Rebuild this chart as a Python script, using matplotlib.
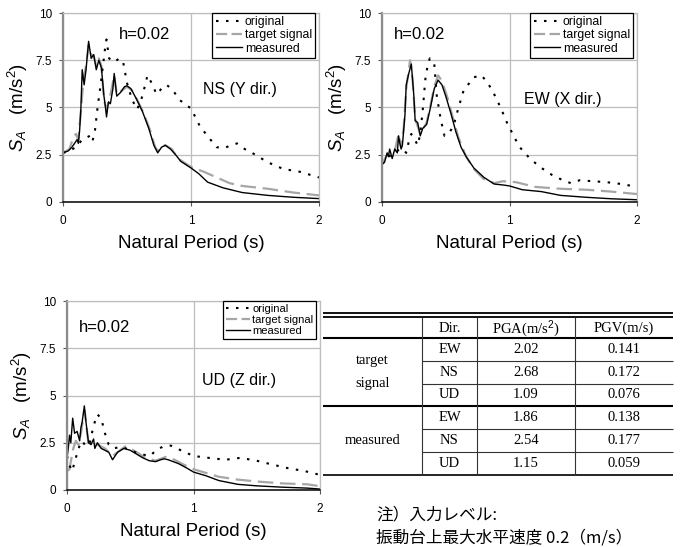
import matplotlib
matplotlib.use("Agg")
import matplotlib.pyplot as plt
from matplotlib.lines import Line2D

plt.rcParams['font.family'] = ['Liberation Sans', 'Noto Sans CJK JP']
plt.rcParams['mathtext.fontset'] = 'custom'
plt.rcParams['mathtext.rm'] = 'Liberation Sans'
plt.rcParams['mathtext.it'] = 'Liberation Sans:italic'

# ---- response spectra (period s, SA m/s^2) ----
ns_meas_t = [0.00, 0.04, 0.07, 0.09, 0.11, 0.12, 0.13, 0.14, 0.15, 0.165, 0.18, 0.20, 0.22, 0.24,
             0.26, 0.28, 0.30, 0.32, 0.33, 0.34, 0.355, 0.37, 0.39, 0.40, 0.42, 0.45, 0.48, 0.50,
             0.53, 0.57, 0.62, 0.67, 0.71, 0.74, 0.77, 0.80, 0.84, 0.88, 0.92, 1.00, 1.06, 1.13,
             1.25, 1.40, 1.60, 1.80, 2.00]
ns_meas_sa = [2.6, 2.7, 2.9, 3.1, 3.3, 3.1, 3.8, 5.0, 7.0, 6.2, 7.0, 8.5, 7.6, 7.8,
              7.0, 7.5, 7.1, 5.6, 5.1, 4.5, 5.3, 5.2, 6.0, 6.8, 5.6, 5.8, 6.1, 6.15,
              6.0, 5.5, 4.8, 3.9, 3.0, 2.6, 2.9, 3.0, 2.8, 2.5, 2.15, 1.8, 1.5, 1.05,
              0.75, 0.5, 0.35, 0.25, 0.18]
ns_targ_t = [0.00, 0.05, 0.08, 0.10, 0.12, 0.14, 0.16, 0.18, 0.20, 0.22, 0.24, 0.26, 0.28, 0.30,
             0.32, 0.34, 0.36, 0.40, 0.42, 0.46, 0.50, 0.54, 0.58, 0.63, 0.68, 0.72, 0.74, 0.78,
             0.80, 0.85, 0.90, 1.00, 1.10, 1.20, 1.30, 1.40, 1.60, 1.80, 2.00]
ns_targ_sa = [2.6, 2.8, 3.4, 3.6, 3.3, 4.8, 6.5, 7.2, 8.3, 7.8, 7.7, 7.2, 7.6, 7.2,
              5.4, 4.9, 5.3, 6.7, 5.7, 5.9, 6.1, 5.9, 5.4, 4.7, 3.8, 2.9, 2.7, 3.0,
              3.0, 2.8, 2.3, 1.85, 1.6, 1.3, 1.0, 0.85, 0.7, 0.5, 0.35]
ns_orig_t = [0.00, 0.05, 0.10, 0.15, 0.18, 0.21, 0.23, 0.25, 0.27, 0.29, 0.31, 0.33, 0.34, 0.36,
             0.40, 0.44, 0.47, 0.50, 0.54, 0.58, 0.62, 0.66, 0.70, 0.73, 0.77, 0.81, 0.86, 0.91,
             1.00, 1.07, 1.14, 1.20, 1.26, 1.31, 1.36, 1.42, 1.49, 1.60, 1.72, 1.85, 2.00]
ns_orig_sa = [2.6, 2.7, 2.9, 3.3, 3.4, 3.5, 3.2, 3.8, 5.0, 6.0, 7.1, 8.2, 8.6, 7.6,
              7.4, 7.6, 7.4, 6.3, 5.4, 4.9, 5.6, 6.7, 6.2, 5.7, 6.0, 6.2, 5.9, 5.4,
              4.95, 4.0, 3.4, 2.9, 2.85, 3.0, 3.1, 2.8, 2.55, 2.1, 1.75, 1.6, 1.3]

ew_meas_t = [0.00, 0.02, 0.04, 0.05, 0.06, 0.08, 0.10, 0.12, 0.13, 0.14, 0.15, 0.16, 0.17, 0.18,
             0.19, 0.21, 0.23, 0.25, 0.26, 0.28, 0.30, 0.32, 0.35, 0.38, 0.41, 0.44, 0.47, 0.50,
             0.54, 0.58, 0.62, 0.66, 0.72, 0.80, 0.88, 0.95, 1.00, 1.10, 1.25, 1.40, 1.60, 1.80, 2.00]
ew_meas_sa = [2.0, 2.1, 2.6, 2.4, 2.8, 2.3, 2.8, 2.6, 3.5, 3.1, 2.8, 3.0, 3.8, 4.6,
              6.2, 6.8, 7.3, 5.6, 4.3, 4.2, 3.5, 3.9, 4.1, 5.0, 6.0, 6.45, 6.2, 5.6,
              4.7, 3.7, 2.9, 2.4, 1.8, 1.3, 0.95, 0.9, 0.85, 0.65, 0.55, 0.35, 0.25, 0.17, 0.12]
ew_targ_t = [0.00, 0.04, 0.08, 0.10, 0.13, 0.15, 0.17, 0.19, 0.21, 0.22, 0.24, 0.26, 0.30, 0.35,
             0.38, 0.41, 0.44, 0.47, 0.51, 0.55, 0.60, 0.66, 0.72, 0.80, 0.88, 0.95, 1.05, 1.20,
             1.40, 1.60, 1.80, 2.00]
ew_targ_sa = [2.0, 2.5, 2.4, 2.7, 3.6, 2.9, 3.9, 6.0, 7.0, 7.5, 6.5, 4.4, 3.6, 4.2,
              5.1, 6.1, 6.7, 6.4, 5.6, 4.6, 3.4, 2.4, 1.75, 1.2, 1.0, 1.1, 1.05, 0.8,
              0.7, 0.65, 0.55, 0.42]
ew_orig_t = [0.00, 0.05, 0.10, 0.14, 0.165, 0.19, 0.21, 0.23, 0.25, 0.28, 0.30, 0.32, 0.34, 0.36,
             0.375, 0.41, 0.43, 0.46, 0.49, 0.52, 0.56, 0.60, 0.64, 0.72, 0.78, 0.83, 0.88, 0.93,
             0.98, 1.04, 1.08, 1.16, 1.24, 1.34, 1.42, 1.48, 1.55, 1.65, 1.76, 1.88, 2.00]
ew_orig_sa = [2.0, 2.4, 2.6, 2.8, 2.8, 2.6, 3.2, 3.6, 3.4, 3.0, 3.6, 4.9, 6.5, 7.3,
              7.6, 7.3, 5.6, 4.4, 3.5, 3.6, 4.0, 5.0, 5.9, 6.6, 6.7, 6.3, 5.7, 5.0,
              4.2, 3.4, 2.9, 2.3, 1.85, 1.4, 1.15, 1.0, 1.15, 1.1, 1.05, 0.95, 0.8]

ud_meas_t = [0.00, 0.01, 0.02, 0.03, 0.045, 0.06, 0.08, 0.10, 0.11, 0.12, 0.137, 0.15, 0.17, 0.19,
             0.21, 0.22, 0.24, 0.27, 0.30, 0.33, 0.36, 0.40, 0.45, 0.50, 0.55, 0.60, 0.65, 0.70,
             0.74, 0.77, 0.80, 0.88, 0.95, 1.00, 1.10, 1.20, 1.35, 1.50, 1.70, 1.90, 2.00]
ud_meas_sa = [1.7, 2.2, 2.9, 2.5, 3.8, 3.0, 3.1, 2.6, 3.3, 3.6, 4.45, 3.6, 2.5, 2.4,
              2.7, 2.2, 2.5, 2.2, 2.1, 2.0, 1.6, 2.0, 2.2, 2.1, 1.9, 1.7, 1.55, 1.5,
              1.6, 1.65, 1.6, 1.4, 1.15, 0.95, 0.75, 0.5, 0.3, 0.22, 0.15, 0.1, 0.05]
ud_targ_t = [0.00, 0.02, 0.03, 0.05, 0.07, 0.09, 0.11, 0.13, 0.14, 0.16, 0.17, 0.20, 0.24, 0.30,
             0.36, 0.40, 0.46, 0.50, 0.55, 0.62, 0.70, 0.78, 0.85, 0.92, 1.00, 1.10, 1.20, 1.35,
             1.50, 1.70, 1.90, 2.00]
ud_targ_sa = [1.0, 1.1, 1.5, 2.2, 2.6, 2.4, 3.0, 3.9, 4.2, 3.0, 2.5, 2.4, 2.4, 2.2,
              1.8, 2.0, 2.3, 2.2, 2.0, 1.7, 1.55, 1.75, 1.6, 1.35, 1.1, 0.9, 0.7, 0.55,
              0.45, 0.35, 0.3, 0.2]
ud_orig_t = [0.00, 0.02, 0.04, 0.06, 0.09, 0.12, 0.15, 0.18, 0.21, 0.24, 0.27, 0.30, 0.33, 0.37,
             0.43, 0.50, 0.58, 0.66, 0.70, 0.76, 0.82, 0.90, 1.00, 1.12, 1.25, 1.37, 1.50, 1.62,
             1.75, 1.88, 2.00]
ud_orig_sa = [1.8, 1.3, 1.0, 1.45, 2.2, 2.6, 2.3, 2.5, 3.4, 4.0, 3.8, 3.0, 2.4, 2.2,
              2.3, 2.1, 1.9, 1.8, 2.1, 2.3, 2.35, 2.1, 1.8, 1.7, 1.6, 1.7, 1.55, 1.35,
              1.15, 1.0, 0.8]

# ---- table ----
col_headers = ['', 'Dir.', 'PGA(m/s$^2$)', 'PGV(m/s)']
groups = ['target\nsignal', 'measured']
dirs = ['EW', 'NS', 'UD']
pga_target = ['2.02', '2.68', '1.09']
pgv_target = ['0.141', '0.172', '0.076']
pga_measured = ['1.86', '2.54', '1.15']
pgv_measured = ['0.138', '0.177', '0.059']

W, H = 684, 547
fig = plt.figure(figsize=(W / 100, H / 100), dpi=100)

DOTS = (1.2, 3.6)


def px_axes(left, top, right, bottom):
    return fig.add_axes([left / W, 1 - bottom / H, (right - left) / W, (bottom - top) / H])


def spectrum(ax, orig, targ, meas, dir_label, dir_xy, h_xy, leg_size=8.8):
    ax.plot(targ[0], targ[1], color='#a6a6a6', lw=1.6, dashes=(7, 3), label='target signal')
    ax.plot(orig[0], orig[1], color='black', lw=1.5, dashes=DOTS, label='original')
    ax.plot(meas[0], meas[1], color='black', lw=1.0, label='measured')
    ax.set_xlim(0, 2)
    ax.set_ylim(0, 10)
    ax.set_xticks([0, 1, 2])
    ax.set_yticks([0, 2.5, 5, 7.5, 10])
    ax.set_yticklabels(['0', '2.5', '5', '7.5', '10'])
    ax.grid(True, color='#bdbdbd', lw=0.9)
    ax.set_axisbelow(True)
    for s in ['top', 'right']:
        ax.spines[s].set_color('#bdbdbd')
        ax.spines[s].set_linewidth(0.9)
    ax.spines['left'].set_color('#8c8c8c')
    ax.spines['left'].set_linewidth(1.6)
    ax.spines['bottom'].set_color('black')
    ax.spines['bottom'].set_linewidth(1.1)
    ax.tick_params(direction='out', length=3, width=0.8, color='#555555', labelsize=8.5, pad=5)
    ax.tick_params(axis='x', pad=6)
    ax.set_xlabel('Natural Period (s)', fontsize=13.5, labelpad=6)
    ax.set_ylabel(r'$S_A$   (m/s$^2$)', fontsize=13.5, labelpad=4)
    ax.text(h_xy[0], h_xy[1], 'h=0.02', fontsize=12, va='center', ha='left')
    ax.text(dir_xy[0], dir_xy[1], dir_label, fontsize=11.5, va='center', ha='left')
    handles = [Line2D([], [], color='black', lw=1.5, dashes=DOTS),
               Line2D([], [], color='#a6a6a6', lw=1.6, dashes=(5, 2)),
               Line2D([], [], color='black', lw=1.0)]
    leg = ax.legend(handles, ['original', 'target signal', 'measured'], loc='upper right',
                    bbox_to_anchor=(0.985, 1.0), borderaxespad=0, fontsize=leg_size,
                    handlelength=2.2, handletextpad=0.2, labelspacing=0.1, borderpad=0.25,
                    fancybox=False, framealpha=1, edgecolor='black')
    leg.get_frame().set_linewidth(0.9)


ax_ns = px_axes(63, 13, 319, 202)
spectrum(ax_ns, (ns_orig_t, ns_orig_sa), (ns_targ_t, ns_targ_sa), (ns_meas_t, ns_meas_sa),
         'NS (Y dir.)', (1.09, 5.95), (0.44, 8.85))

ax_ew = px_axes(382, 13, 637, 202)
spectrum(ax_ew, (ew_orig_t, ew_orig_sa), (ew_targ_t, ew_targ_sa), (ew_meas_t, ew_meas_sa),
         'EW (X dir.)', (1.11, 5.4), (0.09, 8.85))

ax_ud = px_axes(67, 301, 320, 490)
spectrum(ax_ud, (ud_orig_t, ud_orig_sa), (ud_targ_t, ud_targ_sa), (ud_meas_t, ud_meas_sa),
         'UD (Z dir.)', (1.07, 5.8), (0.09, 8.6), leg_size=8.0)

# ---- table drawn in pixel space ----
tab = fig.add_axes([0, 0, 1, 1])
tab.set_xlim(0, W)
tab.set_ylim(H, 0)
tab.axis('off')

col_edges = [323, 422, 477, 575, 673]
row_edges = [338, 361, 384, 406, 429, 452, 475]
head_top = 316.5

tab.hlines([313, head_top], col_edges[0], col_edges[-1], color='black', lw=1.3)
tab.hlines([row_edges[0], row_edges[3]], col_edges[0], col_edges[-1], color='black', lw=1.5)
tab.hlines(row_edges[-1], col_edges[0], col_edges[-1], color='black', lw=1.2)
tab.hlines([row_edges[i] for i in (1, 2, 4, 5)], col_edges[1], col_edges[-1], color='#333333', lw=0.8)
tab.vlines(col_edges[1:4], head_top, row_edges[-1], color='#333333', lw=0.8)

serif = dict(family='Liberation Serif', fontsize=10.5, ha='center', va='center')
for c in range(4):
    cx = (col_edges[c] + col_edges[c + 1]) / 2
    tab.text(cx, (head_top + row_edges[0]) / 2 + 1, col_headers[c], **serif)

blocks = [(pga_target, pgv_target), (pga_measured, pgv_measured)]
for g, (pga, pgv) in enumerate(blocks):
    top = row_edges[3 * g]
    bot = row_edges[3 * g + 3]
    gx = (col_edges[0] + col_edges[1]) / 2
    tab.text(gx, (top + bot) / 2, groups[g], linespacing=2.0, **serif)
    for r in range(3):
        cy = (row_edges[3 * g + r] + row_edges[3 * g + r + 1]) / 2
        vals = [dirs[r], pga[r], pgv[r]]
        for c in range(3):
            cx = (col_edges[c + 1] + col_edges[c + 2]) / 2
            tab.text(cx, cy, vals[c], **serif)

note = dict(family=['Noto Sans CJK JP', 'DejaVu Sans'], fontsize=12, ha='left', va='center')
tab.text(376, 515, '注）入力レベル:', **note)
tab.text(376, 538, '振動台上最大水平速度 0.2（m/s）', **note)

fig.savefig('out.png', dpi=100)
